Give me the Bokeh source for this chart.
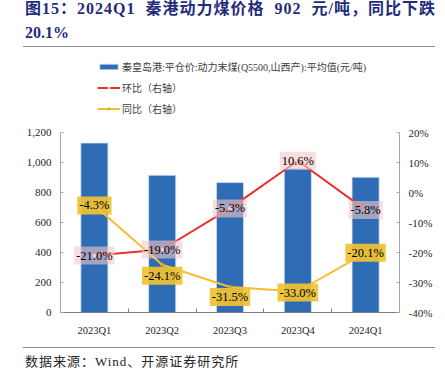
from bokeh.plotting import figure
from bokeh.models import (Range1d, LinearAxis, FixedTicker, NumeralTickFormatter,
                          PrintfTickFormatter, Legend, LegendItem, Div, ColumnDataSource)
from bokeh.layouts import column
from bokeh.core.properties import value
from bokeh.embed import file_html
from bokeh.resources import INLINE

# ---- data ----
categories = ["2023Q1", "2023Q2", "2023Q3", "2023Q4", "2024Q1"]
price = [1130, 915, 866, 958, 902]
qoq = [-21.0, -19.0, -5.3, 10.6, -5.8]
yoy = [-4.3, -24.1, -31.5, -33.0, -20.1]
qoq_labels = ["-21.0%", "-19.0%", "-5.3%", "10.6%", "-5.8%"]
yoy_labels = ["-4.3%", "-24.1%", "-31.5%", "-33.0%", "-20.1%"]
left_ticks = [0, 200, 400, 600, 800, 1000, 1200]
right_ticks = [-40, -30, -20, -10, 0, 10, 20]

# label placement tweaks (pixels, screen-down)
yoy_dy = [0, 11, 10, 1, 0]

serif = "'Liberation Serif', 'Noto Sans CJK SC'"
xs = list(range(len(categories)))

# frame: axes occupy lower 180px of a 260px frame; top part holds the legend
left_lo, left_hi = left_ticks[0], left_ticks[-1]
right_lo, right_hi = right_ticks[0], right_ticks[-1]
frame_h, axis_h = 260, 180
left_top = left_lo + (left_hi - left_lo) * frame_h / axis_h
right_top = right_lo + (right_hi - right_lo) * frame_h / axis_h

src = ColumnDataSource(dict(x=xs, price=price, qoq=qoq, yoy=yoy,
                            ql=qoq_labels, yl=yoy_labels, ydy=yoy_dy))

p = figure(width=440, height=300, output_backend="svg", toolbar_location=None,
           x_range=Range1d(-0.5, 4.5), y_range=Range1d(left_lo, left_top),
           min_border_left=60, min_border_right=41, min_border_top=5,
           min_border_bottom=35)
p.outline_line_color = None
p.grid.visible = False
p.background_fill_color = "white"
p.border_fill_color = "white"
p.extra_y_ranges = {"pct": Range1d(right_lo, right_top)}

bars = p.vbar(x="x", top="price", width=0.4, source=src, fill_color="#2E6DB5",
              line_color="#D6E2F0", line_width=0.8)
rl = p.line("x", "qoq", source=src, y_range_name="pct", line_color="#E8302A", line_width=2)
rs = p.scatter("x", "qoq", source=src, y_range_name="pct", size=4,
               fill_color="#F6D0D0", line_color=None)
yl = p.line("x", "yoy", source=src, y_range_name="pct", line_color="#F6BE2E", line_width=2)
ys = p.scatter("x", "yoy", source=src, y_range_name="pct", size=4,
               fill_color="#E0A820", line_color=None)

p.text("x", "qoq", text="ql", source=src, y_range_name="pct",
       text_font=value("Liberation Serif"), text_font_size="12.5px", text_color="black",
       text_align="center", text_baseline="middle",
       background_fill_color="#F4C8C8", background_fill_alpha=0.6, padding=2)
p.text("x", "yoy", text="yl", source=src, y_range_name="pct", y_offset="ydy",
       text_font=value("Liberation Serif"), text_font_size="12.5px", text_color="black",
       text_align="center", text_baseline="middle",
       background_fill_color="#F0C232", background_fill_alpha=0.92, padding=2)

# axes
xa = p.xaxis[0]
xa.ticker = FixedTicker(ticks=xs, minor_ticks=[0.5, 1.5, 2.5, 3.5])
xa.major_label_overrides = {i: c for i, c in zip(xs, categories)}
xa.major_tick_line_color = None
xa.minor_tick_in = 4
xa.minor_tick_out = 0
xa.minor_tick_line_color = "#7F7F7F"
xa.axis_line_color = "#7F7F7F"
xa.major_label_standoff = 6

ya = p.yaxis[0]
ya.ticker = FixedTicker(ticks=left_ticks)
ya.bounds = (left_lo, left_hi)
ya.formatter = NumeralTickFormatter(format="0,0")
ya.axis_line_color = "#A6A6A6"
ya.major_tick_line_color = "#A6A6A6"
ya.major_tick_in = 3
ya.major_tick_out = 0
ya.minor_tick_line_color = None
ya.major_label_standoff = 9

ra = LinearAxis(y_range_name="pct", ticker=FixedTicker(ticks=right_ticks),
                formatter=PrintfTickFormatter(format="%d%%"), bounds=(right_lo, right_hi))
ra.axis_line_color = "#A6A6A6"
ra.major_tick_line_color = "#A6A6A6"
ra.major_tick_in = 3
ra.major_tick_out = 0
ra.minor_tick_line_color = None
ra.major_label_standoff = 9
p.add_layout(ra, "right")

for ax in (xa, ya, ra):
    ax.major_label_text_font = "Liberation Serif"
    ax.major_label_text_font_size = "11px"
    ax.major_label_text_color = "#262626"
xa.major_label_text_font_size = "10.5px"

legend = Legend(items=[
    LegendItem(label="秦皇岛港:平仓价:动力末煤(Q5500,山西产):平均值(元/吨)", renderers=[bars]),
    LegendItem(label="环比（右轴）", renderers=[rl, rs]),
    LegendItem(label="同比（右轴）", renderers=[yl, ys]),
], location=(37, 196), orientation="vertical")
legend.border_line_color = None
legend.background_fill_alpha = 0
legend.padding = 0
legend.margin = 0
legend.spacing = 5
legend.glyph_width = 23
legend.glyph_height = 7
legend.label_height = 16
legend.label_standoff = 2
legend.label_text_font = serif
legend.label_text_font_size = "10px"
legend.label_text_color = "#404040"
legend.label_text_baseline = "middle"
p.add_layout(legend, "center")

title_html = (
    '<div style="position:relative;width:412px;height:47px;'
    'border-bottom:1.5px solid #8C8C8C;box-sizing:border-box;">'
    '<div style="position:absolute;top:-3px;left:2px;white-space:nowrap;'
    f'font-family:{serif};font-weight:bold;font-size:16px;color:#1F2C7C;'
    'line-height:24px;">'
    '<span style="letter-spacing:1px;">图15：2024Q1&nbsp;&nbsp;秦港动力煤价格&nbsp;&nbsp;902&nbsp;&nbsp;元/吨，同比下跌</span>'
    '<br>20.1%'
    '</div></div>'
)
source_html = (
    '<div style="width:412px;height:34px;border-top:1.5px solid #8C8C8C;'
    'box-sizing:border-box;white-space:nowrap;'
    f'font-family:{serif};font-size:13px;color:#262626;line-height:27px;'
    'letter-spacing:1px;padding-left:2px;">'
    '数据来源：Wind、开源证券研究所</div>'
)
title = Div(text=title_html, width=412, height=47, margin=(0, 0, 0, 23))
source = Div(text=source_html, width=412, height=34, margin=(0, 0, 0, 23))

layout = column(title, p, source, spacing=0)
open("out.html", "w").write(file_html(layout, INLINE))
